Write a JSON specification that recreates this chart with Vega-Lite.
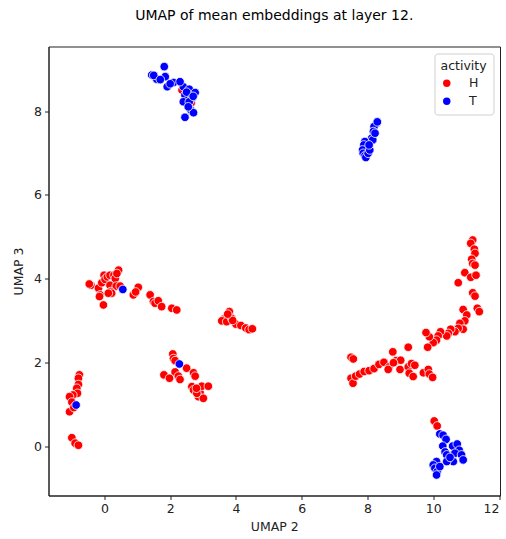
{
  "$schema": "https://vega.github.io/schema/vega-lite/v6.json",
  "width": 451.5,
  "height": 449,
  "autosize": {"type": "none"},
  "padding": {"left": 48.5, "top": 46.5, "right": 6, "bottom": 43.5},
  "background": "white",
  "title": {"text": "UMAP of mean embeddings at layer 12.", "font": "DejaVu Sans", "fontSize": 14, "fontWeight": "normal", "color": "#000", "offset": 24, "anchor": "middle"},
  "config": {
    "view": {"stroke": "#222", "strokeWidth": 1},
    "axis": {"labelFont": "DejaVu Sans", "titleFont": "DejaVu Sans", "labelFontSize": 12.5, "titleFontSize": 12.5, "titleFontWeight": "normal", "labelColor": "#222", "titleColor": "#222", "tickColor": "#222", "domainColor": "#222", "grid": false, "tickSize": 4, "labelPadding": 3}
  },
  "data": {"values": [
    {"x": -0.76, "y": 1.70, "activity": "H"}, {"x": -0.79, "y": 1.62, "activity": "H"}, {"x": -0.79, "y": 1.47, "activity": "H"}, {"x": -0.84, "y": 1.38, "activity": "H"}, {"x": -0.82, "y": 1.26, "activity": "H"}, {"x": -0.96, "y": 1.22, "activity": "H"}, {"x": -1.06, "y": 1.18, "activity": "H"}, {"x": -0.99, "y": 1.05, "activity": "H"}, {"x": -1.06, "y": 0.82, "activity": "H"}, {"x": -0.93, "y": 0.92, "activity": "H"}, {"x": -0.99, "y": 0.20, "activity": "H"}, {"x": -0.89, "y": 0.07, "activity": "H"}, {"x": -0.79, "y": 0.02, "activity": "H"},
    {"x": -0.41, "y": 3.84, "activity": "H"}, {"x": -0.46, "y": 3.87, "activity": "H"}, {"x": -0.18, "y": 3.77, "activity": "H"}, {"x": -0.13, "y": 3.61, "activity": "H"}, {"x": -0.15, "y": 3.57, "activity": "H"}, {"x": -0.03, "y": 3.37, "activity": "H"}, {"x": -0.08, "y": 3.90, "activity": "H"}, {"x": -0.01, "y": 4.08, "activity": "H"}, {"x": 0.02, "y": 3.98, "activity": "H"}, {"x": 0.09, "y": 4.04, "activity": "H"}, {"x": 0.17, "y": 4.08, "activity": "H"}, {"x": 0.29, "y": 4.08, "activity": "H"}, {"x": 0.33, "y": 4.00, "activity": "H"}, {"x": 0.43, "y": 4.20, "activity": "H"}, {"x": 0.38, "y": 4.12, "activity": "H"}, {"x": 0.17, "y": 3.84, "activity": "H"}, {"x": 0.36, "y": 3.82, "activity": "H"}, {"x": 0.19, "y": 3.69, "activity": "H"}, {"x": 0.22, "y": 3.65, "activity": "H"}, {"x": 0.12, "y": 3.65, "activity": "H"}, {"x": 0.48, "y": 3.82, "activity": "H"},
    {"x": 1.03, "y": 3.79, "activity": "H"}, {"x": 0.93, "y": 3.65, "activity": "H"}, {"x": 0.88, "y": 3.61, "activity": "H"}, {"x": 0.95, "y": 3.68, "activity": "H"}, {"x": 1.39, "y": 3.61, "activity": "H"}, {"x": 1.49, "y": 3.45, "activity": "H"}, {"x": 1.54, "y": 3.41, "activity": "H"}, {"x": 1.64, "y": 3.47, "activity": "H"}, {"x": 1.74, "y": 3.33, "activity": "H"}, {"x": 2.05, "y": 3.29, "activity": "H"}, {"x": 2.20, "y": 3.25, "activity": "H"},
    {"x": 3.80, "y": 3.21, "activity": "H"}, {"x": 3.67, "y": 3.05, "activity": "H"}, {"x": 3.57, "y": 2.99, "activity": "H"}, {"x": 3.72, "y": 2.97, "activity": "H"}, {"x": 3.87, "y": 3.05, "activity": "H"}, {"x": 4.00, "y": 2.91, "activity": "H"}, {"x": 4.15, "y": 2.88, "activity": "H"}, {"x": 4.30, "y": 2.82, "activity": "H"}, {"x": 4.40, "y": 2.78, "activity": "H"}, {"x": 4.50, "y": 2.80, "activity": "H"}, {"x": 3.90, "y": 3.00, "activity": "H"}, {"x": 3.75, "y": 3.15, "activity": "H"},
    {"x": 2.08, "y": 2.20, "activity": "H"}, {"x": 2.10, "y": 2.09, "activity": "H"}, {"x": 2.15, "y": 2.04, "activity": "H"}, {"x": 2.50, "y": 1.86, "activity": "H"}, {"x": 2.71, "y": 1.75, "activity": "H"}, {"x": 2.76, "y": 1.67, "activity": "H"}, {"x": 1.81, "y": 1.70, "activity": "H"}, {"x": 1.98, "y": 1.62, "activity": "H"}, {"x": 2.15, "y": 1.77, "activity": "H"}, {"x": 2.25, "y": 1.67, "activity": "H"}, {"x": 2.30, "y": 1.59, "activity": "H"}, {"x": 2.66, "y": 1.42, "activity": "H"}, {"x": 2.71, "y": 1.34, "activity": "H"}, {"x": 2.91, "y": 1.27, "activity": "H"}, {"x": 2.96, "y": 1.43, "activity": "H"}, {"x": 3.16, "y": 1.43, "activity": "H"}, {"x": 2.86, "y": 1.18, "activity": "H"}, {"x": 3.01, "y": 1.14, "activity": "H"}, {"x": 2.81, "y": 1.26, "activity": "H"}, {"x": 2.80, "y": 1.38, "activity": "H"},
    {"x": 7.50, "y": 2.12, "activity": "H"}, {"x": 7.57, "y": 2.08, "activity": "H"}, {"x": 7.50, "y": 1.62, "activity": "H"}, {"x": 7.56, "y": 1.50, "activity": "H"}, {"x": 7.64, "y": 1.67, "activity": "H"}, {"x": 7.76, "y": 1.72, "activity": "H"}, {"x": 7.90, "y": 1.78, "activity": "H"}, {"x": 8.05, "y": 1.80, "activity": "H"}, {"x": 8.20, "y": 1.85, "activity": "H"}, {"x": 8.35, "y": 1.95, "activity": "H"}, {"x": 8.50, "y": 2.00, "activity": "H"},
    {"x": 11.20, "y": 4.92, "activity": "H"}, {"x": 11.14, "y": 4.84, "activity": "H"}, {"x": 11.25, "y": 4.70, "activity": "H"}, {"x": 11.27, "y": 4.60, "activity": "H"}, {"x": 11.17, "y": 4.46, "activity": "H"}, {"x": 11.20, "y": 4.36, "activity": "H"}, {"x": 11.27, "y": 4.32, "activity": "H"}, {"x": 10.96, "y": 4.14, "activity": "H"}, {"x": 11.14, "y": 4.03, "activity": "H"}, {"x": 11.30, "y": 4.08, "activity": "H"}, {"x": 10.76, "y": 3.90, "activity": "H"}, {"x": 11.20, "y": 3.66, "activity": "H"}, {"x": 11.27, "y": 3.58, "activity": "H"}, {"x": 11.34, "y": 3.29, "activity": "H"}, {"x": 11.40, "y": 3.21, "activity": "H"}, {"x": 10.91, "y": 3.26, "activity": "H"}, {"x": 11.02, "y": 3.13, "activity": "H"}, {"x": 10.96, "y": 2.99, "activity": "H"}, {"x": 10.81, "y": 2.93, "activity": "H"}, {"x": 10.91, "y": 2.79, "activity": "H"}, {"x": 10.76, "y": 2.81, "activity": "H"}, {"x": 10.66, "y": 2.73, "activity": "H"}, {"x": 10.53, "y": 2.79, "activity": "H"}, {"x": 10.46, "y": 2.69, "activity": "H"}, {"x": 10.41, "y": 2.63, "activity": "H"}, {"x": 10.22, "y": 2.73, "activity": "H"}, {"x": 10.15, "y": 2.63, "activity": "H"}, {"x": 10.10, "y": 2.53, "activity": "H"}, {"x": 10.00, "y": 2.47, "activity": "H"}, {"x": 9.88, "y": 2.61, "activity": "H"}, {"x": 9.78, "y": 2.71, "activity": "H"}, {"x": 9.83, "y": 2.36, "activity": "H"}, {"x": 9.24, "y": 2.36, "activity": "H"}, {"x": 8.77, "y": 2.25, "activity": "H"}, {"x": 8.87, "y": 2.04, "activity": "H"}, {"x": 9.01, "y": 2.05, "activity": "H"}, {"x": 8.66, "y": 1.89, "activity": "H"}, {"x": 8.63, "y": 1.83, "activity": "H"}, {"x": 8.99, "y": 1.83, "activity": "H"}, {"x": 9.24, "y": 1.89, "activity": "H"}, {"x": 9.34, "y": 1.97, "activity": "H"}, {"x": 9.44, "y": 1.93, "activity": "H"}, {"x": 9.27, "y": 1.74, "activity": "H"}, {"x": 9.39, "y": 1.66, "activity": "H"}, {"x": 9.70, "y": 1.75, "activity": "H"}, {"x": 9.85, "y": 1.83, "activity": "H"}, {"x": 9.88, "y": 1.72, "activity": "H"}, {"x": 9.98, "y": 1.64, "activity": "H"}, {"x": 8.79, "y": 1.99, "activity": "H"},
    {"x": 10.03, "y": 0.60, "activity": "H"}, {"x": 10.12, "y": 0.48, "activity": "H"}, {"x": 10.56, "y": -0.22, "activity": "H"},
    {"x": 2.36, "y": 8.5, "activity": "H"}, {"x": 2.45, "y": 8.26, "activity": "H"}, {"x": 2.64, "y": 8.2, "activity": "H"},
    {"x": 1.44, "y": 8.86, "activity": "T"}, {"x": 1.82, "y": 9.06, "activity": "T"}, {"x": 1.59, "y": 8.76, "activity": "T"}, {"x": 1.85, "y": 8.82, "activity": "T"}, {"x": 1.91, "y": 8.58, "activity": "T"}, {"x": 2.10, "y": 8.68, "activity": "T"}, {"x": 2.40, "y": 8.58, "activity": "T"}, {"x": 2.58, "y": 8.52, "activity": "T"}, {"x": 2.76, "y": 8.44, "activity": "T"}, {"x": 2.45, "y": 8.38, "activity": "T"}, {"x": 2.66, "y": 8.30, "activity": "T"}, {"x": 2.40, "y": 8.22, "activity": "T"}, {"x": 2.58, "y": 8.22, "activity": "T"}, {"x": 2.63, "y": 8.02, "activity": "T"}, {"x": 2.71, "y": 7.96, "activity": "T"}, {"x": 2.45, "y": 7.85, "activity": "T"}, {"x": 2.30, "y": 8.70, "activity": "T"}, {"x": 1.50, "y": 8.85, "activity": "T"}, {"x": 1.70, "y": 8.75, "activity": "T"}, {"x": 2.00, "y": 8.65, "activity": "T"}, {"x": 2.50, "y": 8.45, "activity": "T"}, {"x": 2.55, "y": 8.10, "activity": "T"}, {"x": 2.70, "y": 8.35, "activity": "T"},
    {"x": 8.28, "y": 7.71, "activity": "T"}, {"x": 8.20, "y": 7.63, "activity": "T"}, {"x": 8.18, "y": 7.51, "activity": "T"}, {"x": 8.13, "y": 7.35, "activity": "T"}, {"x": 8.16, "y": 7.31, "activity": "T"}, {"x": 7.92, "y": 7.27, "activity": "T"}, {"x": 7.89, "y": 7.19, "activity": "T"}, {"x": 7.85, "y": 7.07, "activity": "T"}, {"x": 7.87, "y": 6.99, "activity": "T"}, {"x": 7.92, "y": 6.93, "activity": "T"}, {"x": 7.95, "y": 6.89, "activity": "T"}, {"x": 8.02, "y": 6.99, "activity": "T"}, {"x": 8.07, "y": 7.07, "activity": "T"}, {"x": 8.05, "y": 7.19, "activity": "T"}, {"x": 8.23, "y": 7.47, "activity": "T"}, {"x": 8.30, "y": 7.74, "activity": "T"},
    {"x": 10.20, "y": 0.29, "activity": "T"}, {"x": 10.30, "y": 0.26, "activity": "T"}, {"x": 10.39, "y": 0.16, "activity": "T"}, {"x": 10.29, "y": 0.00, "activity": "T"}, {"x": 10.36, "y": -0.14, "activity": "T"}, {"x": 10.41, "y": -0.21, "activity": "T"}, {"x": 10.59, "y": 0.00, "activity": "T"}, {"x": 10.73, "y": 0.05, "activity": "T"}, {"x": 10.79, "y": -0.10, "activity": "T"}, {"x": 10.66, "y": -0.17, "activity": "T"}, {"x": 10.86, "y": -0.21, "activity": "T"}, {"x": 10.91, "y": -0.33, "activity": "T"}, {"x": 10.61, "y": -0.37, "activity": "T"}, {"x": 10.41, "y": -0.37, "activity": "T"}, {"x": 10.10, "y": -0.37, "activity": "T"}, {"x": 10.00, "y": -0.45, "activity": "T"}, {"x": 10.05, "y": -0.53, "activity": "T"}, {"x": 10.12, "y": -0.61, "activity": "T"}, {"x": 10.10, "y": -0.69, "activity": "T"}, {"x": 10.20, "y": -0.49, "activity": "T"}, {"x": 10.51, "y": -0.27, "activity": "T"},
    {"x": 0.56, "y": 3.74, "activity": "T"}, {"x": 2.28, "y": 1.96, "activity": "T"}, {"x": -0.86, "y": 0.98, "activity": "T"}
  ]},
  "mark": {"type": "point", "shape": "circle", "filled": true, "size": 74, "opacity": 1, "stroke": "white", "strokeWidth": 0.8},
  "encoding": {
    "x": {"field": "x", "type": "quantitative", "title": "UMAP 2", "scale": {"domain": [-1.7, 12.03], "nice": false, "zero": false}, "axis": {"values": [0, 2, 4, 6, 8, 10, 12], "titlePadding": 5}},
    "y": {"field": "y", "type": "quantitative", "title": "UMAP 3", "scale": {"domain": [-1.18, 9.54], "nice": false, "zero": false}, "axis": {"values": [0, 2, 4, 6, 8], "titlePadding": 8}},
    "color": {"field": "activity", "type": "nominal", "scale": {"domain": ["H", "T"], "range": ["#ff0000", "#0000ff"]}, "legend": {"title": "activity", "orient": "top-right", "offset": 7, "fillColor": "white", "strokeColor": "#d0d0d0", "cornerRadius": 3, "padding": 6, "titleFont": "DejaVu Sans", "titleFontSize": 12.5, "titleFontWeight": "normal", "titleColor": "#222", "labelFont": "DejaVu Sans", "labelFontSize": 12.5, "labelColor": "#222", "symbolSize": 55, "symbolStrokeWidth": 0, "rowPadding": 5, "labelOffset": 16}}
  }
}
